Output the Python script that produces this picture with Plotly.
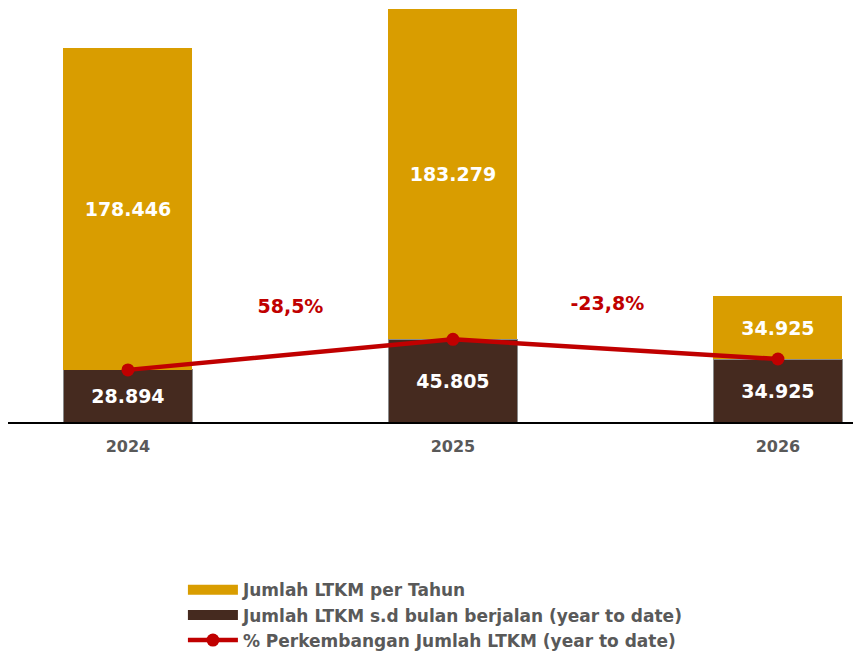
import plotly.graph_objects as go

years = ["2024", "2025", "2026"]
ytd_values = [28894, 45805, 34925]
annual_values = [178446, 183279, 34925]
growth_labels = ["58,5%", "-23,8%"]
growth_label_y = [63000, 64500]

GOLD = "#D99D00"
BROWN = "#452A1F"
RED = "#C00000"
GRAY = "#595959"
FONT = "'DejaVu Sans', sans-serif"

fig = go.Figure()

fig.add_trace(go.Bar(
    x=years, y=ytd_values, name="Jumlah LTKM s.d bulan berjalan (year to date)",
    marker=dict(color=BROWN, line=dict(color="#8a8a8a", width=1)),
    text=ytd_values, texttemplate="%{y:,.0f}", textposition="inside",
    insidetextanchor="middle", textangle=0,
    textfont=dict(color="white", size=19, family=FONT, weight="bold"),
    showlegend=False, width=0.397,
))
fig.add_trace(go.Bar(
    x=years, y=annual_values, name="Jumlah LTKM per Tahun",
    marker=dict(color=GOLD, line=dict(width=0)),
    text=annual_values, texttemplate="%{y:,.0f}", textposition="inside",
    insidetextanchor="middle", textangle=0,
    textfont=dict(color="white", size=19, family=FONT, weight="bold"),
    showlegend=False, width=0.397,
))
fig.add_trace(go.Scatter(
    x=years, y=ytd_values, name="% Perkembangan Jumlah LTKM (year to date)",
    mode="lines+markers", line=dict(color=RED, width=4.5),
    marker=dict(color=RED, size=13), legendrank=3,
))

# legend swatches (wide rectangles like the reference)
fig.add_trace(go.Scatter(
    x=[None], y=[None], mode="lines", name="Jumlah LTKM per Tahun",
    line=dict(color=GOLD, width=10), legendrank=1, hoverinfo="skip",
))
fig.add_trace(go.Scatter(
    x=[None], y=[None], mode="lines", name="Jumlah LTKM s.d bulan berjalan (year to date)",
    line=dict(color=BROWN, width=10), legendrank=2, hoverinfo="skip",
))

mid_x = [0.5, 1.475]
fig.add_trace(go.Scatter(
    x=mid_x, y=growth_label_y, mode="text", text=growth_labels,
    textfont=dict(color=RED, size=19, family=FONT, weight="bold"),
    showlegend=False, xaxis="x2",
))

fig.update_layout(
    barmode="stack",
    separators=",.",
    width=853, height=663,
    margin=dict(l=8, r=0, t=8, b=241),
    plot_bgcolor="white", paper_bgcolor="white",
    font=dict(family=FONT, color=GRAY),
    showlegend=True,
    legend=dict(
        x=0.207, y=-0.363, xanchor="left", yanchor="top",
        traceorder="normal",
        font=dict(size=17, color=GRAY, family=FONT, weight="bold"),
        tracegroupgap=0, itemwidth=50, bgcolor="rgba(0,0,0,0)",
    ),
    xaxis=dict(
        type="category", range=[-0.369, 2.231], showline=True,
        linecolor="black", linewidth=2, ticks="", showgrid=False,
        tickfont=dict(size=16, color=GRAY, family=FONT, weight="bold"),
        ticklabelstandoff=9,
    ),
    xaxis2=dict(range=[-0.369, 2.231], overlaying="x", visible=False),
    yaxis=dict(range=[0, 229500], visible=False, showgrid=False),
)

fig.write_html(
    "out.html",
    config={"displayModeBar": False},
    post_script="document.body.style.margin='0';document.body.style.overflow='hidden';",
)
